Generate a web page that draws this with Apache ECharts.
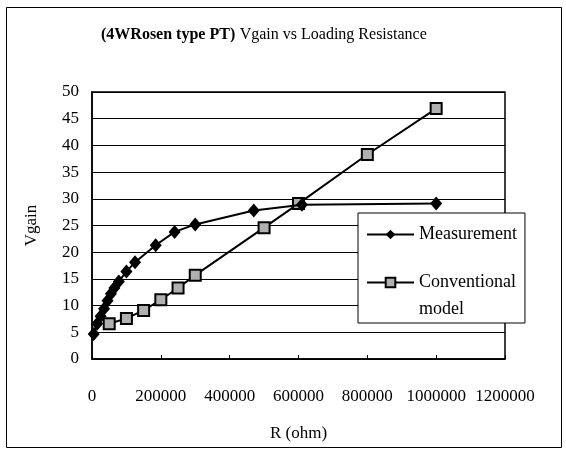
<!DOCTYPE html>
<html>
<head>
<meta charset="utf-8">
<script src="https://cdn.jsdelivr.net/npm/echarts@6/dist/echarts.min.js"></script>
<style>
    html, body { margin: 0; padding: 0; background: #fff; }
    #chart { width: 566px; height: 451px; }
</style>
</head>
<body>
<div id="chart"></div>
<script>
// 数据
const measR = [5000, 15000, 25000, 35000, 45000, 55000, 65000, 78000, 100000, 125000, 185000, 240000, 300000, 470000, 610000, 1000000];
const measV = [4.7, 6.6, 8.0, 9.4, 10.9, 12.2, 13.3, 14.5, 16.4, 18.1, 21.3, 23.8, 25.2, 27.8, 28.9, 29.1];
const convR = [50000, 100000, 150000, 200000, 250000, 300000, 500000, 600000, 800000, 1000000];
const convV = [6.6, 7.6, 9.1, 11.1, 13.3, 15.7, 24.6, 29.1, 38.3, 46.9];
const xTicks = { min: 0, max: 1200000, interval: 200000 };
const yTicks = { min: 0, max: 50, interval: 5 };

const FONT = '"Liberation Serif", "Times New Roman", serif';
// 图例第二项：前面加一个空行，让图标对齐第一行文字
const CONV_NAME = ' \nConventional\nmodel';

document.addEventListener('DOMContentLoaded', function () {
    const myChart = echarts.init(document.getElementById('chart'));

    const option = {
        backgroundColor: '#fff',
        animation: false,
        textStyle: { fontFamily: FONT, color: '#000' },
        graphic: [{
            // 外框
            type: 'rect',
            left: 4,
            top: 5,
            shape: { width: 555, height: 440 },
            style: { fill: 'none', stroke: '#000', lineWidth: 1 },
            silent: true
        }],
        title: {
            text: '{b|(4WRosen type PT)} {n|Vgain vs Loading Resistance}',
            left: 96,
            top: 21,
            textStyle: {
                fontWeight: 'normal',
                rich: {
                    b: { fontFamily: FONT, fontSize: 16, fontWeight: 'bold', color: '#000' },
                    n: { fontFamily: FONT, fontSize: 16, fontWeight: 'normal', color: '#000' }
                }
            }
        },
        grid: {
            left: 92,
            right: 61,
            top: 92,
            bottom: 92,
            show: true,
            backgroundColor: '#fff',
            borderColor: '#000',
            borderWidth: 1.5
        },
        legend: {
            orient: 'vertical',
            left: 358,
            top: 213,
            padding: [8, 8, 0, 8],
            itemGap: -6,
            itemWidth: 47,
            itemHeight: 12,
            backgroundColor: '#fff',
            borderColor: '#000',
            borderWidth: 1,
            borderRadius: 0,
            textStyle: { fontFamily: FONT, fontSize: 18, color: '#000', lineHeight: 27 },
            data: ['Measurement', CONV_NAME]
        },
        xAxis: {
            type: 'value',
            min: xTicks.min,
            max: xTicks.max,
            interval: xTicks.interval,
            name: 'R (ohm)',
            nameLocation: 'middle',
            nameGap: 66,
            nameTextStyle: { fontFamily: FONT, fontSize: 17, color: '#000' },
            axisLine: { show: true, lineStyle: { color: '#000', width: 1.5 } },
            axisTick: { show: true, inside: true, length: 4, lineStyle: { color: '#000' } },
            axisLabel: {
                fontFamily: FONT,
                fontSize: 17,
                color: '#000',
                margin: 29,
                formatter: function (v) { return String(v); }
            },
            splitLine: { show: false }
        },
        yAxis: {
            type: 'value',
            min: yTicks.min,
            max: yTicks.max,
            interval: yTicks.interval,
            name: 'Vgain',
            nameLocation: 'middle',
            nameGap: 52,
            nameTextStyle: { fontFamily: FONT, fontSize: 17, color: '#000' },
            axisLine: { show: true, lineStyle: { color: '#000', width: 1.5 } },
            axisTick: { show: false },
            axisLabel: { fontFamily: FONT, fontSize: 17, color: '#000', margin: 13 },
            splitLine: { show: true, lineStyle: { color: '#000', width: 1.2 } }
        },
        series: [
            {
                name: 'Measurement',
                type: 'line',
                data: measR.map((r, i) => [r, measV[i]]),
                symbol: 'diamond',
                symbolSize: [12, 14],
                itemStyle: { color: '#000' },
                lineStyle: { color: '#000', width: 2 },
                z: 3
            },
            {
                name: CONV_NAME,
                type: 'line',
                data: convR.map((r, i) => [r, convV[i]]),
                symbol: 'rect',
                symbolSize: 11,
                itemStyle: { color: '#b0b0b0', borderColor: '#000', borderWidth: 2 },
                lineStyle: { color: '#000', width: 2 },
                z: 2
            }
        ]
    };

    myChart.setOption(option);
});
</script>
</body>
</html>
